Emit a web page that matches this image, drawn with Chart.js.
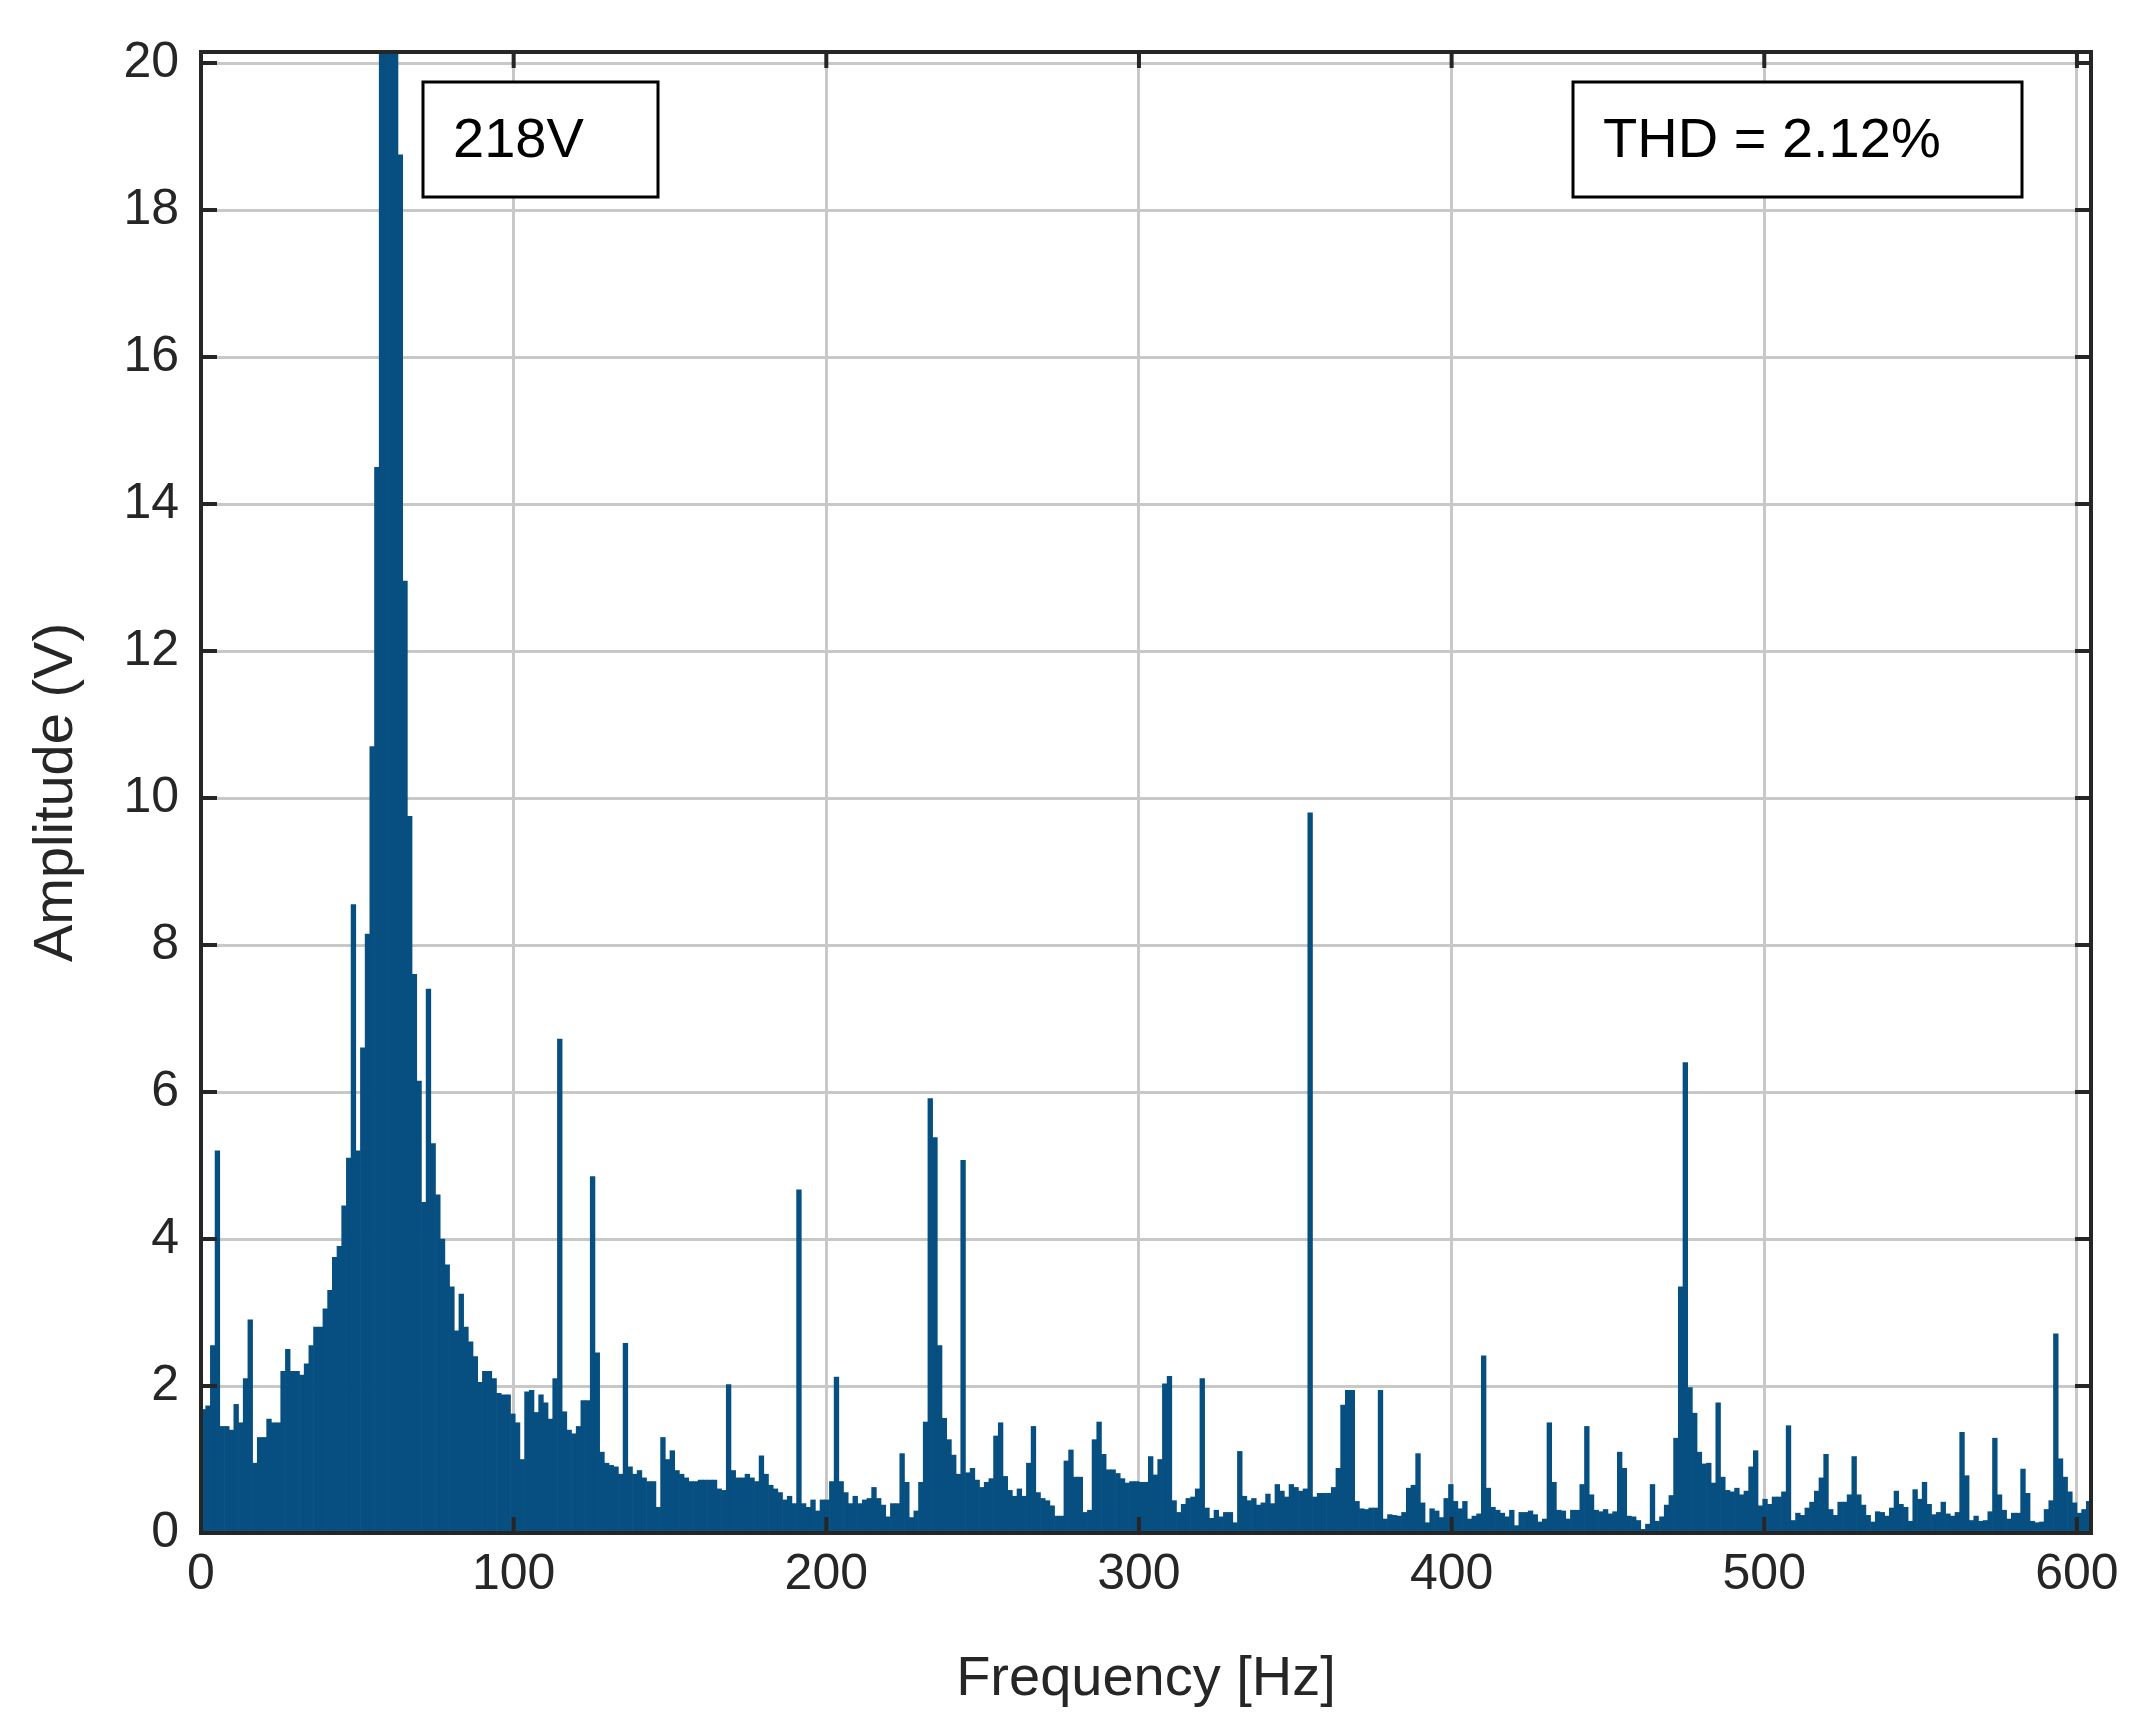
<!DOCTYPE html>
<html><head><meta charset="utf-8">
<script src="https://cdn.jsdelivr.net/npm/chart.js@4.4.1/dist/chart.umd.min.js"></script>
<style>html,body{margin:0;padding:0;background:#fff}canvas{display:block}</style>
</head><body>
<canvas id="c" width="2146" height="1731"></canvas>
<script>
// Spectrum amplitudes (V), one per 1.5 Hz bin starting at 0 Hz
const binWidthHz = 1.5;
const amplitudes = [
1.68,1.73,2.55,5.2,1.45,1.45,1.4,1.75,1.5,2.1,2.9,0.95,1.3,1.3,1.55,1.5,1.5,2.2,2.5,
2.2,2.2,2.15,2.3,2.55,2.8,2.8,3.05,3.3,3.75,3.9,4.45,5.1,8.55,5.2,6.6,8.15,10.7,14.5,30,60,40,25,18.75,12.95,9.75,7.6,6.15,4.5,7.4,5.3,4.6,4.0,3.65,3.35,2.75,3.25,2.8,2.6,2.4,2.05,2.2,2.2,2.1,1.9,1.88,1.88,
1.62,1.5,1.0,1.92,1.94,1.64,1.88,1.77,1.55,2.1,6.72,1.65,1.4,1.35,1.45,1.8,1.8,4.85,2.45,1.1,0.95,0.92,0.9,0.8,2.58,0.9,0.8,0.85,0.75,0.7,0.7,0.35,1.3,1.0,1.12,0.85,0.8,0.75,0.7,0.7,0.72,0.72,0.72,0.72,0.6,0.58,2.02,0.85,0.75,0.75,0.8,0.75,0.7,1.05,0.8,0.65,0.6,0.55,0.45,0.5,0.4,4.67,0.4,0.35,0.45,0.3,0.45,0.45,0.7,2.12,0.7,0.55,0.4,0.5,0.4,0.45,
0.47,0.62,0.47,0.38,0.22,0.4,0.4,1.08,0.69,0.21,0.3,0.69,1.51,5.91,5.38,2.55,1.56,1.27,1.06,0.8,5.07,0.82,0.88,0.72,0.62,0.69,0.74,1.32,1.5,0.77,0.58,0.5,0.6,0.5,0.95,1.45,0.55,0.47,0.44,0.37,0.23,0.23,0.98,1.13,0.76,0.76,0.28,0.31,1.27,1.51,1.07,0.86,0.86,0.81,0.74,0.68,0.7,0.7,0.69,0.69,1.04,0.79,1.0,2.03,2.13,0.44,0.28,0.39,0.47,0.49,0.6,2.1,0.34,0.2,0.31,0.22,0.28,0.28,0.14,1.11,0.5,0.44,0.47,0.38,0.41,0.53,0.4,0.66,0.57,0.49,0.66,0.62,0.57,0.6,9.8,0.49,0.54,0.54,0.54,0.62,0.88,1.74,1.94,1.94,0.43,0.33,0.32,0.34,0.34,1.94,0.19,0.25,0.24,0.23,0.28,0.61,0.65,1.08,0.41,0.14,0.33,0.3,0.21,0.47,0.66,0.43,0.33,0.43,0.19,0.23,0.26,
2.41,0.61,0.35,0.31,0.27,0.22,0.31,0.1,0.28,0.28,0.3,0.25,0.15,0.19,1.5,0.69,0.31,0.3,0.19,0.31,0.31,0.66,1.45,0.52,0.31,0.29,0.32,0.26,0.29,1.1,0.88,0.23,0.22,0.17,0.05,0.12,0.66,0.16,0.22,0.38,0.51,1.29,3.35,6.4,1.98,1.63,1.1,0.94,0.95,0.68,1.77,0.76,0.58,0.56,0.61,0.52,0.57,0.9,1.12,0.37,0.46,0.39,0.49,0.49,0.56,1.46,0.17,0.27,0.24,0.34,0.42,0.57,0.75,1.07,0.32,0.24,0.42,0.42,0.52,1.04,0.52,0.38,0.24,0.15,0.29,0.28,0.23,0.34,0.57,0.39,0.35,0.16,0.59,0.46,0.69,0.39,0.25,0.28,0.42,0.26,0.23,0.28,1.37,0.78,0.17,0.23,0.16,0.17,0.29,1.29,0.52,0.31,0.19,0.27,0.27,0.87,0.54,0.16,0.14,0.15,0.32,0.44,2.71,1.01,0.76,0.56,0.41,0.27,0.32,0.43,0.35,0.4
];
const frequencies = amplitudes.map((_, i) => (i + 0.5) * binWidthHz);
const xTickValues = [0,100,200,300,400,500,600];
const yTickValues = [0,2,4,6,8,10,12,14,16,18,20];
const xTitle = 'Frequency [Hz]';
const yTitle = 'Amplitude (V)';
const boxLeftText = '218V';
const boxRightText = 'THD = 2.12%';

const FONT = '"Liberation Sans", Arial, Helvetica, sans-serif';
const INK = '#262626';

const overlay = {
  id: 'overlay',
  afterDraw(chart) {
    const {ctx, chartArea: a, scales: {x, y}} = chart;
    ctx.save();
    ctx.strokeStyle = INK; ctx.lineWidth = 4;
    const tl = 16;
    ctx.beginPath();
    xTickValues.forEach(v => { const px = x.getPixelForValue(v);
      ctx.moveTo(px, a.bottom); ctx.lineTo(px, a.bottom - tl);
      ctx.moveTo(px, a.top); ctx.lineTo(px, a.top + tl); });
    yTickValues.forEach(v => { const py = y.getPixelForValue(v);
      ctx.moveTo(a.left, py); ctx.lineTo(a.left + tl, py);
      ctx.moveTo(a.right, py); ctx.lineTo(a.right - tl, py); });
    ctx.stroke();
    ctx.strokeRect(a.left, a.top, a.right - a.left, a.bottom - a.top);
    ctx.fillStyle = INK;
    ctx.font = '56px ' + FONT;
    ctx.textAlign = 'center'; ctx.textBaseline = 'middle';
    ctx.fillText(xTitle, (a.left + a.right) / 2, 1680);
    ctx.save(); ctx.translate(57, (a.top + a.bottom) / 2); ctx.rotate(-Math.PI / 2);
    ctx.fillText(yTitle, 0, 0); ctx.restore();
    ctx.font = '56px ' + FONT;
    ctx.strokeStyle = '#000'; ctx.lineWidth = 3;
    const boxes = [[423, 82, 235, 115, boxLeftText], [1573, 82, 449, 115, boxRightText]];
    boxes.forEach(([bx, by, bw, bh, t]) => {
      ctx.fillStyle = '#fff'; ctx.fillRect(bx, by, bw, bh);
      ctx.strokeRect(bx, by, bw, bh);
      ctx.fillStyle = '#000'; ctx.textAlign = 'left';
      ctx.fillText(t, bx + 30, by + bh / 2 + 2);
    });
    ctx.restore();
  }
};

new Chart(document.getElementById('c'), {
  type: 'bar',
  data: { datasets: [{
    data: frequencies.map((f, i) => ({x: f, y: amplitudes[i]})),
    backgroundColor: '#074f80', borderWidth: 0,
    barPercentage: 1.0, categoryPercentage: 1.0, grouped: false
  }]},
  options: {
    responsive: false, animation: false, devicePixelRatio: 1,
    layout: { padding: { left: 0, top: 41, right: 55, bottom: 0 } },
    plugins: { legend: { display: false }, tooltip: { enabled: false } },
    scales: {
      x: { type: 'linear', min: 0, max: 604.5, offset: false,
        afterBuildTicks: s => { s.ticks = xTickValues.map(v => ({value: v})); },
        afterFit: s => { s.height = 1731 - 1533; },
        grid: { offset: false, color: '#c8c8c8', lineWidth: 3, drawTicks: false },
        border: { display: false },
        ticks: { stepSize: 100, autoSkip: false, padding: 12, color: INK, font: { size: 50, family: FONT }, maxRotation: 0 } },
      y: { min: 0, max: 20.15,
        afterBuildTicks: s => { s.ticks = yTickValues.map(v => ({value: v})); },
        afterFit: s => { s.width = 201; },
        grid: { color: '#c8c8c8', lineWidth: 3, drawTicks: false },
        border: { display: false },
        ticks: { stepSize: 2, autoSkip: false, padding: 22, color: INK, font: { size: 50, family: FONT } } }
    }
  },
  plugins: [overlay]
});
</script>
</body></html>
